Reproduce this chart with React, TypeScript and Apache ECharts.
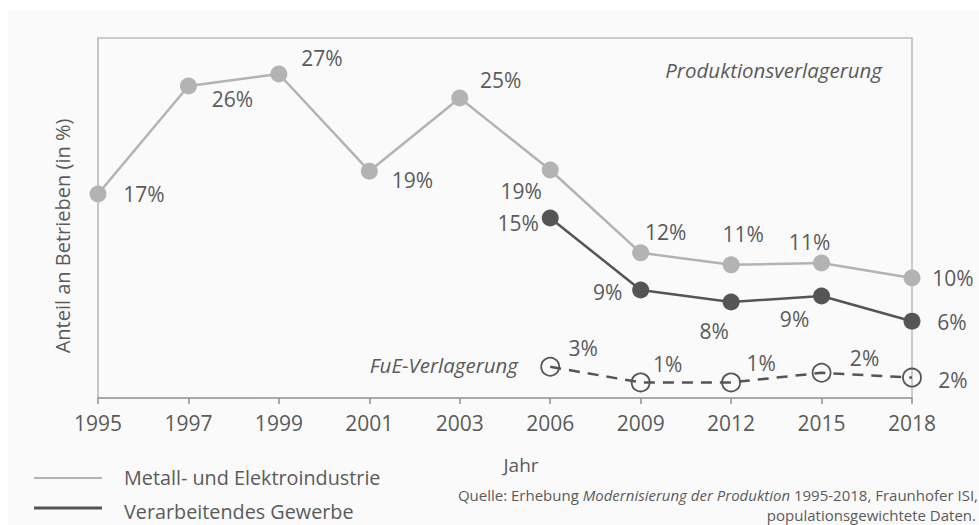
import React, { useEffect, useRef } from "react";
import * as echarts from "echarts";

const years = ["1995", "1997", "1999", "2001", "2003", "2006", "2009", "2012", "2015", "2018"];
const metallValues: (number | null)[] = [17, 26, 27, 18.9, 25, 19, 12.1, 11.1, 11.25, 10];
const gewerbeValues: (number | null)[] = [null, null, null, null, null, 15, 9, 8, 8.5, 6.4];
const fueValues: (number | null)[] = [null, null, null, null, null, 2.6, 1.3, 1.3, 2.1, 1.7];

const metallLabelOffsets: [number, number][] = [
  [46, 0], [44, 13], [43, -16], [43, 9], [41, -18], [-29, 21], [25, -21], [12, -31], [-12, -21], [41, 0],
];
const gewerbeLabelOffsets: [number, number][] = [
  [0, 0], [0, 0], [0, 0], [0, 0], [0, 0], [-32, 5], [-33, 2], [-17, 29], [-27, 23], [40, 1],
];
const fueLabelOffsets: [number, number][] = [
  [0, 0], [0, 0], [0, 0], [0, 0], [0, 0], [33, -19], [27, -18], [30, -19], [43, -15], [41, 2],
];

const legendNames = ["Metall- und Elektroindustrie", "Verarbeitendes Gewerbe"];
const yAxisName = "Anteil an Betrieben (in %)";
const xAxisName = "Jahr";
const sourceLine1 = "Quelle: Erhebung ";
const sourceItalic = "Modernisierung der Produktion";
const sourceLine1b = " 1995-2018, Fraunhofer ISI,";
const sourceLine2 = "populationsgewichtete Daten.";

const FONT = "'Open Sans', 'Noto Sans', sans-serif";
const TEXT = "#5a5a5a";

function build(values: (number | null)[], offsets: [number, number][]) {
  return values.map((v, i) =>
    v == null ? "-" : { value: v, label: { offset: offsets[i] } }
  );
}

export default function App() {
  const ref = useRef<HTMLDivElement>(null);
  useEffect(() => {
    if (!ref.current) return;
    const chart = echarts.init(ref.current, undefined, { renderer: "svg" });
    const labelBase = {
      show: true,
      position: "inside",
      fontFamily: FONT,
      fontSize: 21,
      color: TEXT,
      formatter: (p: any) => Math.round(p.value) + "%",
    };
    chart.setOption({
      animation: false,
      backgroundColor: "#ffffff",
      grid: { left: 98, right: 67, top: 38, bottom: 127, containLabel: false },
      xAxis: [
        {
          type: "category",
          data: years,
          boundaryGap: false,
          axisLine: { lineStyle: { color: "#8f8f8f", width: 1.5 } },
          axisTick: { show: true, length: 6, alignWithLabel: true, lineStyle: { color: "#8f8f8f", width: 1.5 } },
          axisLabel: { fontFamily: FONT, fontSize: 21, color: TEXT, margin: 14 },
          splitLine: { show: false },
        },
        {
          type: "category",
          data: years,
          position: "top",
          boundaryGap: false,
          axisLine: { show: true, onZero: false, lineStyle: { color: "#bdbdbd", width: 1.5 } },
          axisTick: { show: false },
          axisLabel: { show: false },
        },
      ],
      yAxis: [
        {
          type: "value",
          min: 0,
          max: 30,
          axisLine: { show: true, lineStyle: { color: "#b5b5b5", width: 1.5 } },
          axisTick: { show: false },
          axisLabel: { show: false },
          splitLine: { show: false },
        },
        {
          type: "value",
          min: 0,
          max: 30,
          position: "right",
          axisLine: { show: true, onZero: false, lineStyle: { color: "#bdbdbd", width: 1.5 } },
          axisTick: { show: false },
          axisLabel: { show: false },
          splitLine: { show: false },
        },
      ],
      series: [
        {
          name: legendNames[0],
          type: "line",
          data: build(metallValues, metallLabelOffsets),
          symbol: "circle",
          symbolSize: 17,
          itemStyle: { color: "#b3b3b3" },
          lineStyle: { color: "#b3b3b3", width: 2.5 },
          label: labelBase,
          z: 2,
        },
        {
          name: legendNames[1],
          type: "line",
          data: build(gewerbeValues, gewerbeLabelOffsets),
          symbol: "circle",
          symbolSize: 17,
          itemStyle: { color: "#555555" },
          lineStyle: { color: "#555555", width: 2.5 },
          label: labelBase,
          z: 3,
        },
        {
          name: "FuE-Verlagerung",
          type: "line",
          data: build(fueValues, fueLabelOffsets),
          symbol: "circle",
          symbolSize: 18,
          itemStyle: { color: "rgba(0,0,0,0)", borderColor: "#555555", borderWidth: 1.8 },
          lineStyle: { color: "#555555", width: 2.5, type: [11, 8] },
          label: labelBase,
          z: 4,
        },
      ],
      graphic: [
        {
          type: "rect",
          z: -10,
          silent: true,
          shape: { x: 8, y: 10, width: 971, height: 515 },
          style: { fill: "#fafafa" },
        },
        {
          type: "text",
          x: 62,
          y: 236,
          rotation: Math.PI / 2,
          style: { text: yAxisName, font: `20px ${FONT}`, fill: TEXT, textAlign: "center", textVerticalAlign: "middle" },
        },
        {
          type: "text",
          x: 521,
          y: 465,
          style: { text: xAxisName, font: `19px ${FONT}`, fill: TEXT, textAlign: "center", textVerticalAlign: "middle" },
        },
        {
          type: "text",
          x: 882,
          y: 70,
          style: { text: "Produktionsverlagerung", font: `italic 20.5px ${FONT}`, fill: TEXT, textAlign: "right", textVerticalAlign: "middle" },
        },
        {
          type: "text",
          x: 518,
          y: 365,
          style: { text: "FuE-Verlagerung", font: `italic 20.5px ${FONT}`, fill: TEXT, textAlign: "right", textVerticalAlign: "middle" },
        },
        {
          type: "line",
          shape: { x1: 34, y1: 478, x2: 102, y2: 478 },
          style: { stroke: "#b3b3b3", lineWidth: 2 },
        },
        {
          type: "line",
          shape: { x1: 34, y1: 508, x2: 102, y2: 508 },
          style: { stroke: "#555555", lineWidth: 3 },
        },
        {
          type: "text",
          x: 124,
          y: 477,
          style: { text: legendNames[0], font: `19.8px ${FONT}`, fill: TEXT, textVerticalAlign: "middle" },
        },
        {
          type: "text",
          x: 124,
          y: 511,
          style: { text: legendNames[1], font: `19.8px ${FONT}`, fill: TEXT, textVerticalAlign: "middle" },
        },
        {
          type: "text",
          x: 978,
          y: 495,
          style: {
            text: `{n|${sourceLine1}}{i|${sourceItalic}}{n|${sourceLine1b}}`,
            textAlign: "right",
            textVerticalAlign: "middle",
            rich: {
              n: { font: `15px ${FONT}`, fill: TEXT },
              i: { font: `italic 15px ${FONT}`, fill: TEXT },
            },
          },
        },
        {
          type: "text",
          x: 976,
          y: 515,
          style: { text: sourceLine2, font: `15px ${FONT}`, fill: TEXT, textAlign: "right", textVerticalAlign: "middle" },
        },
      ],
    });
    return () => chart.dispose();
  }, []);
  return (
    <div
      ref={ref}
      style={{ position: "absolute", left: 0, top: 0, width: 979, height: 525 }}
    />
  );
}
